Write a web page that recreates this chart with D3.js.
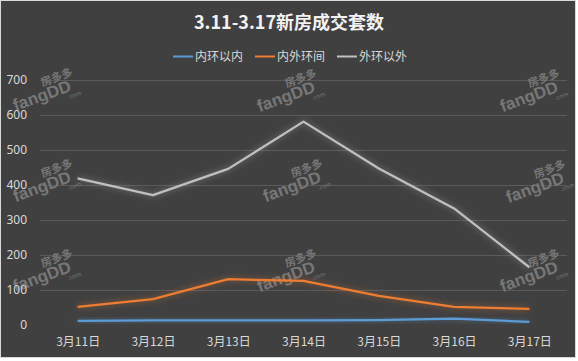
<!DOCTYPE html>
<html><head><meta charset="utf-8">
<script src="https://cdn.jsdelivr.net/npm/d3@7/dist/d3.min.js"></script>
<style>
html,body{margin:0;padding:0;background:#ffffff;}
svg{display:block;font-family:"Noto Sans CJK SC","Noto Sans",sans-serif;}
</style></head><body>
<script>
const title = "3.11-3.17新房成交套数";
const categories = ["3月11日","3月12日","3月13日","3月14日","3月15日","3月16日","3月17日"];
const seriesNames = ["内环以内","内外环间","外环以外"];
const innerRing = [12, 13, 13, 13, 14, 18, 9];
const middleRing = [52, 74, 131, 126, 83, 52, 46];
const outerRing = [419, 371, 446, 581, 447, 333, 165];
const yTicks = [0,100,200,300,400,500,600,700];
const colors = ["#5b9bd5","#ed7d31","#c0c0c0"];
const watermarks = [[40,96],[284,97],[527,97],[40,187],[290,187],[533,188],[40,277],[284,277],[527,277]];

const W = 578, H = 361;
const svg = d3.select("body").append("svg").attr("width", W).attr("height", H);
const defs = svg.append("defs");
colors.forEach((c,i)=>{
  const f = defs.append("filter").attr("id","glow"+i).attr("x","-10%").attr("y","-50%").attr("width","120%").attr("height","200%");
  f.append("feGaussianBlur").attr("in","SourceGraphic").attr("stdDeviation",3).attr("result","b");
  f.append("feComponentTransfer").attr("in","b").attr("result","b2")
    .append("feFuncA").attr("type","linear").attr("slope",0.55);
  const m = f.append("feMerge");
  m.append("feMergeNode").attr("in","b2");
  m.append("feMergeNode").attr("in","SourceGraphic");
});

svg.append("rect").attr("x",0.5).attr("y",0.5).attr("width",575).attr("height",357)
  .attr("fill","#404040").attr("stroke","#d9d9d9").attr("stroke-width",1);

const x = d3.scalePoint().domain(categories).range([40,567]).padding(0.5);
const y = d3.scaleLinear().domain([0,700]).range([325,80]);

// gridlines
svg.append("g").selectAll("line").data(yTicks.filter(d=>d>0)).join("line")
  .attr("x1",40).attr("x2",567).attr("y1",d=>Math.round(y(d))+0.5).attr("y2",d=>Math.round(y(d))+0.5)
  .attr("stroke","#5a5a5a").attr("stroke-width",1);

// watermarks
const wm = svg.append("g").attr("fill","#777777").attr("font-weight","bold");
watermarks.forEach(([cx,cy])=>{
  const g = wm.append("g").attr("transform",`translate(${cx},${cy}) rotate(-20)`);
  g.append("text").attr("x",22).attr("y",-8).attr("text-anchor","middle").attr("font-size",11).text("房多多");
  g.append("text").attr("x",2).attr("y",6).attr("text-anchor","middle").attr("font-size",17)
    .attr("font-family","Liberation Sans, sans-serif").text("fangDD");
  g.append("text").attr("x",26).attr("y",13).attr("font-size",6).attr("font-weight","normal").text(".com");
});

// y axis labels
const yAxis = d3.axisLeft(y).tickValues(yTicks).tickSize(0).tickPadding(0);
const ya = svg.append("g").attr("transform","translate(27,0)").call(yAxis);
ya.select(".domain").remove();
ya.selectAll("text").attr("fill","#d9d9d9").attr("font-size",12).attr("font-family","Noto Sans, sans-serif");

// x axis labels
const xAxis = d3.axisBottom(x).tickSize(0).tickPadding(0);
const xa = svg.append("g").attr("transform","translate(0,337)").call(xAxis);
xa.select(".domain").remove();
xa.selectAll("text").attr("fill","#d9d9d9").attr("font-size",12).attr("font-family","Noto Sans CJK SC, sans-serif");

// lines
const data = [innerRing, middleRing, outerRing];
const line = d3.line().x((d,i)=>x(categories[i])).y(d=>y(d));
[2,1,0].forEach(i=>{
  svg.append("path").datum(data[i]).attr("d",line).attr("fill","none")
    .attr("stroke",colors[i]).attr("stroke-width",2.25).attr("stroke-linejoin","round")
    .attr("filter",`url(#glow${i})`);
});

// title
svg.append("text").attr("x",289).attr("y",29).attr("text-anchor","middle")
  .attr("font-size",18).attr("font-weight","bold").attr("fill","#f2f2f2").text(title);

// legend
const legendX = [173,255,337];
const lg = svg.append("g");
seriesNames.forEach((n,i)=>{
  lg.append("line").attr("x1",legendX[i]).attr("x2",legendX[i]+20).attr("y1",56.5).attr("y2",56.5)
    .attr("stroke",colors[i]).attr("stroke-width",2);
  lg.append("text").attr("x",legendX[i]+22).attr("y",61).attr("font-size",12).attr("fill","#d9d9d9").text(n);
});
</script>
</body></html>
